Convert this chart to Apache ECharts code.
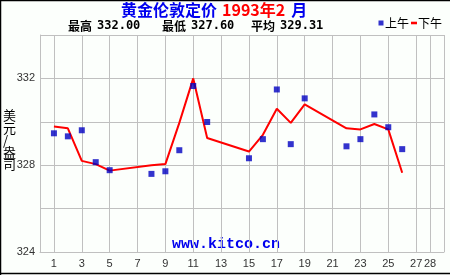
<!DOCTYPE html>
<html><head><meta charset="utf-8">
<script src="https://cdn.jsdelivr.net/npm/echarts@6/dist/echarts.min.js"></script>
<style>html,body{margin:0;padding:0;background:#fcfffc}#c{width:450px;height:275px}</style>
</head><body><div id="c"></div>
<script>
// days 0..29 on the axis
const days = Array.from({length: 30}, (_, i) => String(i));
const xTickLabels = ['1','3','5','7','9','11','13','15','17','19','21','23','25','27','28'];
const yTickLabels = [324, 328, 332];
// trading days of February 1993
const tradeDays = [1,2,3,4,5,8,9,10,11,12,15,16,17,18,19,22,23,24,25,26];
const amValues = [329.47,329.33,329.61,328.14,327.77,327.60,327.72,328.69,331.65,329.99,328.32,329.20,331.49,328.97,331.08,328.87,329.20,330.34,329.75,328.74];
const pmValues = [329.78,329.70,328.20,328.05,327.75,328.00,328.05,329.95,332.00,329.25,328.63,329.40,330.60,329.95,330.80,329.70,329.65,329.90,329.65,327.65];

function toSeries(vals){
  const arr = days.map(() => null);
  tradeDays.forEach((d, i) => { arr[d] = vals[i]; });
  return arr;
}
const all = amValues.concat(pmValues);
const hi = Math.max(...all), lo = Math.min(...all);
const avg = all.reduce((a, b) => a + b, 0) / all.length;

const chart = echarts.init(document.getElementById('c'));
const gridColor = '#c0c0c0';
const cjk = "'Noto Sans CJK SC', sans-serif";
const mono = "'DejaVu Sans Mono', monospace";
const showX = (i) => xTickLabels.indexOf(String(i)) >= 0;
const subRich = { c: { fontSize: 12, fontFamily: cjk, color: '#000' }, n: { fontSize: 12, fontFamily: mono, fontWeight: 'bold', color: '#000' } };
chart.setOption({
  backgroundColor: '#fcfffc',
  animation: false,
  title: [
    { left: 121, top: 0, padding: 0,
      text: '{a|黄金伦敦定价}{r|1993年2}{m|月}',
      textStyle: { rich: {
        a: { color: '#0000ee', fontSize: 16, fontWeight: 'bold', fontFamily: cjk, lineHeight: 20, padding: [0, 5, 0, 0] },
        r: { color: '#ff0000', fontSize: 16, fontWeight: 'bold', fontFamily: cjk, lineHeight: 20 },
        m: { color: '#0000ee', fontSize: 16, fontWeight: 'bold', fontFamily: cjk, lineHeight: 20, padding: [0, 0, 0, 6] }
      } } },
    { left: 68, top: 17, padding: 0, text: '{c|最高}\u00a0{n|' + hi.toFixed(2) + '}', textStyle: { rich: subRich } },
    { left: 162, top: 17, padding: 0, text: '{c|最低}\u00a0{n|' + lo.toFixed(2) + '}', textStyle: { rich: subRich } },
    { left: 251, top: 17, padding: 0, text: '{c|平均}\u00a0{n|' + avg.toFixed(2) + '}', textStyle: { rich: subRich } }
  ],
  legend: {
    right: 8, top: 17, padding: 0, itemGap: 2, itemWidth: 6, itemHeight: 5,
    textStyle: { fontSize: 12, fontFamily: cjk, color: '#000', padding: [0, 0, 0, -4] },
    data: [
      { name: '上午', icon: 'path://M0,0h5v5h-5z' },
      { name: '下午', icon: 'path://M0,0h7v3h-7z' }
    ]
  },
  grid: { left: 40, top: 35, right: 6, bottom: 23 },
  xAxis: {
    type: 'category', data: days, boundaryGap: false,
    axisLine: { lineStyle: { color: gridColor } },
    axisTick: { show: false },
    axisLabel: { interval: (i) => showX(i), color: '#333', fontSize: 11, fontFamily: 'Liberation Sans', margin: 6 },
    splitLine: { show: true, interval: (i) => showX(i) || i === 29, lineStyle: { color: gridColor, width: 1 } }
  },
  yAxis: {
    type: 'value', min: 324, max: 334, interval: 2,
    axisLine: { show: true, lineStyle: { color: gridColor } },
    axisTick: { show: false },
    axisLabel: { formatter: (v) => yTickLabels.indexOf(v) >= 0 ? String(v) : '', color: '#333', fontSize: 11, fontFamily: 'Liberation Sans', margin: 5 },
    splitLine: { show: true, lineStyle: { color: gridColor, width: 1 } }
  },
  series: [
    { name: '上午', type: 'scatter', data: toSeries(amValues), symbol: 'rect', symbolSize: 6,
      itemStyle: { color: '#0000c0' }, z: 3 },
    { name: '下午', type: 'line', data: toSeries(pmValues), connectNulls: true, showSymbol: false,
      symbol: 'none', lineStyle: { color: '#ff0000', width: 2 }, itemStyle: { color: '#ff0000' }, z: 2 }
  ],
  graphic: [
    { type: 'text', left: 3, top: 109, style: { text: '美\n元\n/\n盎\n司', font: "13px 'Noto Sans CJK SC'", fill: '#000', lineHeight: 12.2, textAlign: 'left' } },
    { type: 'text', left: 172, top: 237, style: { text: 'www.kitco.cn', font: "bold 15px 'Liberation Mono'", fill: '#0000ee' } },
    { type: 'line', shape: { x1: 0.5, y1: 0, x2: 0.5, y2: 275 }, style: { stroke: '#000', lineWidth: 1.5 } },
    { type: 'line', shape: { x1: 0, y1: 0.5, x2: 450, y2: 0.5 }, style: { stroke: '#000', lineWidth: 1.5 } },
    { type: 'line', shape: { x1: 0, y1: 273.5, x2: 450, y2: 273.5 }, style: { stroke: '#000', lineWidth: 1.5 } }
  ]
});
</script></body></html>
